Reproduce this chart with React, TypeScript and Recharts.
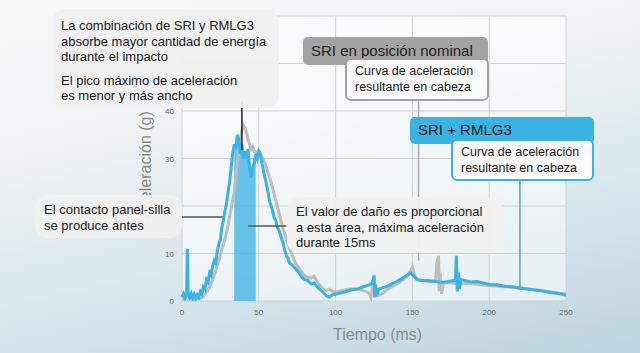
import React from "react";
import {
  ComposedChart, Line, Area, XAxis, YAxis, CartesianGrid, ReferenceLine,
} from "recharts";

// SRI + RMLG3 (blue) head resultant acceleration
const blueTime = [
  0, 1, 2, 3, 3.5, 4, 5, 6, 7, 8, 9, 10, 11, 12, 13, 14, 15, 16, 17, 18, 19, 20,
  21, 22, 23, 24, 25, 26, 27, 28, 29, 30, 31, 32, 33, 34, 35, 36, 37, 38, 39, 40,
  41, 42, 43, 44, 45, 46, 47, 48, 49, 50, 51, 52, 53, 54, 55, 56, 57, 58, 59, 60,
  61, 62, 63, 64, 65, 66, 67, 68, 69, 70, 72, 74, 76, 78, 80, 82, 84, 86, 88, 90,
  92, 94, 96, 98, 100, 103, 106, 110, 114, 118, 122, 124, 125, 125.5, 126, 127, 128,
  130, 134, 138, 142, 146, 149, 151, 153, 156, 160, 165, 170, 175, 178, 178.6, 179.2,
  180, 180.6, 181.5, 184, 188, 192, 196, 200, 205, 210, 215, 220, 225, 230, 235, 240,
  245, 250,
];
const blueAccel = [
  0.8, 1.5, 0.6, 1.2, 11, 1.5, 0.8, 1.6, 0.7, 1.4, 0.6, 1.3, 0.8, 2, 1.5, 3, 2.6, 4.5, 4, 6, 5.5, 7.5,
  8.5, 8, 10.5, 12, 13, 15.5, 17, 19, 20.5, 23, 25, 28, 31, 33, 32, 35, 34, 31, 33, 30,
  31.5, 30, 32, 28, 26, 28, 29, 31, 30, 31.5, 31, 29, 27.5, 26, 24.5, 23, 21, 20, 19, 17.5,
  17, 15.5, 15, 14, 13, 12, 10.5, 9.5, 9, 8, 7.5, 6.8, 6, 5, 4.5, 4.3, 3.6, 3.8, 3, 2.4,
  1.8, 1.1, 0.8, 1.3, 1.4, 1.7, 1.9, 2.3, 2.5, 3, 3.4, 3.8, 5.3, 0.8, 3.5, 1.2, 2.5,
  2.7, 3.2, 3.8, 4.5, 5.3, 5.9, 5.2, 4.5, 4.3, 4.3, 4.1, 3.9, 4.2, 4.3, 9.5, 2,
  6, 2.5, 4.5, 4.3, 4, 4.1, 3.8, 3.5, 3.4, 3.1, 3, 2.7, 2.5, 2.3, 2.1, 1.8,
  1.6, 1.2,
];

// SRI en posición nominal (gray)
const grayTime = [
  0, 4, 8, 12, 14, 16, 18, 20, 22, 24, 26, 28, 30, 32, 34, 35, 36, 37, 38, 39, 40,
  41, 42, 43, 44, 45, 46, 47, 48, 49, 50, 52, 54, 56, 58, 60, 62, 64, 66, 68, 70,
  72, 74, 76, 78, 80, 82, 84, 86, 88, 90, 92, 94, 96, 98, 100, 104, 108, 112, 116,
  120, 122, 123, 124, 125, 126, 128, 130, 134, 138, 142, 146, 149, 150, 151, 152,
  154, 158, 162, 165, 166, 167, 167.5, 168, 169, 170, 172, 176, 180, 185, 190, 195,
  200, 210, 220, 230, 240, 250,
];
const grayAccel = [
  0.3, 0.4, 0.3, 0.5, 1, 1.8, 3, 4.5, 6.5, 8.5, 11, 13, 16, 19.5, 23, 26, 29, 32, 34, 36, 37,
  36.5, 35.5, 34, 33, 32, 32.5, 31.5, 31.5, 31, 31.5, 30.5, 29, 27, 25, 22.5, 20, 17.5, 15, 13, 11,
  9.5, 8, 7, 6, 5.3, 5, 4.8, 5.2, 4, 3.2, 2.5, 2.2, 2.5, 2, 1.8, 2.2, 2.5, 2.6, 2.4,
  2, 1.5, 0.8, 3, 5.5, 1, 1.2, 1.5, 2.5, 3.2, 4, 5, 6.5, 7.2, 6, 5,
  4.5, 4.2, 4, 4.2, 8, 9.5, 2, 6, 1.5, 3.5, 3.9, 3.8, 3.6, 3.7, 3.6, 3.4,
  3.2, 3, 2.8, 2.3, 1.9, 1.5,
];

const xTicks = [0, 50, 100, 150, 200, 250];
const yTicks = [0, 10, 20, 30, 40, 50, 60];
// tick labels that sit under the annotation boxes in the original
const hiddenYLabels = [20, 50, 60];
const damageWindow = [34, 48]; // 15 ms of max acceleration

const blueData = blueTime.map((t, i) => ({ t, g: blueAccel[i] }));
const grayData = grayTime.map((t, i) => ({ t, g: grayAccel[i] }));
const damageData = blueData.filter((d) => d.t >= damageWindow[0] && d.t <= damageWindow[1]);

const BLUE = "#3ab2e4";
const GRAY = "#bdbdbd";
const FONT = "'Liberation Sans', Arial, Helvetica, sans-serif";

const note: React.CSSProperties = {
  position: "absolute",
  background: "rgba(240,240,240,0.95)",
  borderRadius: 12,
  color: "#1a1a1a",
  fontSize: 13,
  lineHeight: "15.5px",
  boxSizing: "border-box",
};

const YTick = (props: any) => {
  const { x, y, payload } = props;
  if (hiddenYLabels.includes(payload.value)) return <g />;
  return (
    <text x={x} y={y} dy={3} textAnchor="end" fill="#666" fontSize={8} fontFamily={FONT}>
      {payload.value}
    </text>
  );
};

export default function App() {
  return (
    <div
      style={{
        position: "absolute",
        left: 0,
        top: 0,
        width: 640,
        height: 353,
        overflow: "hidden",
        fontFamily: FONT,
        background: "linear-gradient(168deg, #f7f8f8 0%, #eef2f3 35%, #d6e5eb 68%, #bcd4de 100%)",
      }}
    >
      <ComposedChart
        width={640}
        height={353}
        margin={{ top: 16, right: 74, bottom: 22, left: 0 }}
        style={{ position: "absolute", left: 0, top: 0 }}
      >
        <CartesianGrid stroke="#d2d2d2" fill="rgba(255,255,255,0.55)" />
        <XAxis
          type="number"
          dataKey="t"
          domain={[0, 250]}
          ticks={xTicks}
          height={30}
          axisLine={false}
          tickLine={false}
          tick={{ fill: "#666", fontSize: 8, fontFamily: FONT }}
        />
        <YAxis
          type="number"
          dataKey="g"
          domain={[0, 60]}
          ticks={yTicks}
          width={182}
          axisLine={false}
          tickLine={false}
          tick={<YTick />}
        />
        <Area
          data={damageData}
          dataKey="g"
          type="linear"
          stroke="none"
          fill="#4cb8e6"
          fillOpacity={0.85}
          isAnimationActive={false}
        />
        <Line data={grayData} dataKey="g" type="linear" stroke={GRAY} strokeWidth={3} dot={false} isAnimationActive={false} />
        <Line data={blueData} dataKey="g" type="linear" stroke={BLUE} strokeWidth={3} dot={false} isAnimationActive={false} />
        <ReferenceLine segment={[{ x: 39, y: 31.8 }, { x: 39, y: 42 }]} stroke="#222" strokeWidth={1.5} />
        <ReferenceLine segment={[{ x: 0, y: 17.7 }, { x: 26.5, y: 17.7 }]} stroke="#555" strokeWidth={1.5} />
        <ReferenceLine segment={[{ x: 43, y: 15.8 }, { x: 68, y: 15.8 }]} stroke="#555" strokeWidth={1.5} />
        <ReferenceLine segment={[{ x: 154, y: 8.5 }, { x: 154, y: 42 }]} stroke="#aaa" strokeWidth={1.5} />
        <ReferenceLine segment={[{ x: 220, y: 2.7 }, { x: 220, y: 36 }]} stroke="#49a9d4" strokeWidth={1.5} />
      </ComposedChart>

      {/* axis titles */}
      <div style={{ position: "absolute", left: 333, top: 326, fontSize: 16, color: "#8a8a8a" }}>Tiempo (ms)</div>
      <div
        style={{
          position: "absolute",
          left: 146,
          top: 165,
          fontSize: 16,
          color: "#8a8a8a",
          whiteSpace: "nowrap",
          transform: "translate(-50%, -50%) rotate(-90deg)",
        }}
      >
        Aceleración (g)
      </div>

      {/* annotations */}
      <div style={{ ...note, left: 53, top: 9, width: 226, height: 99, padding: "9px 0 0 8px" }}>
        <div>La combinación de SRI y RMLG3</div>
        <div>absorbe mayor cantidad de energía</div>
        <div>durante el impacto</div>
        <div style={{ marginTop: 8 }}>El pico máximo de aceleración</div>
        <div>es menor y más ancho</div>
      </div>
      <div style={{ ...note, left: 35, top: 195, width: 147, height: 43, padding: "7px 0 0 9px" }}>
        <div>El contacto panel-silla</div>
        <div>se produce antes</div>
      </div>
      <div style={{ ...note, left: 287, top: 197, width: 216, height: 56, padding: "7px 0 0 9px" }}>
        <div>El valor de daño es proporcional</div>
        <div>a esta área, máxima aceleración</div>
        <div>durante 15ms</div>
      </div>

      <div
        style={{
          position: "absolute", left: 303, top: 37, width: 185, height: 28, background: "#a3a3a3",
          borderRadius: 5, fontSize: 15, color: "#1d1d1d", padding: "5px 0 0 8px", boxSizing: "border-box",
        }}
      >
        SRI en posición nominal
      </div>
      <div
        style={{
          position: "absolute", left: 345, top: 58, width: 144, height: 43, background: "#fafafa",
          border: "2px solid #a3a3a3", borderRadius: 6, fontSize: 12.5, lineHeight: "15.5px",
          color: "#1d1d1d", padding: "4px 0 0 8px", boxSizing: "border-box",
        }}
      >
        <div>Curva de aceleración</div>
        <div>resultante en cabeza</div>
      </div>

      <div
        style={{
          position: "absolute", left: 410, top: 117, width: 184, height: 27, background: BLUE,
          borderRadius: 5, fontSize: 15, color: "#1d1d1d", padding: "4px 0 0 8px", boxSizing: "border-box",
        }}
      >
        SRI + RMLG3
      </div>
      <div
        style={{
          position: "absolute", left: 451, top: 139, width: 143, height: 42, background: "#fafafa",
          border: `2px solid ${BLUE}`, borderRadius: 6, fontSize: 12.5, lineHeight: "15.5px",
          color: "#1d1d1d", padding: "4px 0 0 8px", boxSizing: "border-box",
        }}
      >
        <div>Curva de aceleración</div>
        <div>resultante en cabeza</div>
      </div>
    </div>
  );
}
